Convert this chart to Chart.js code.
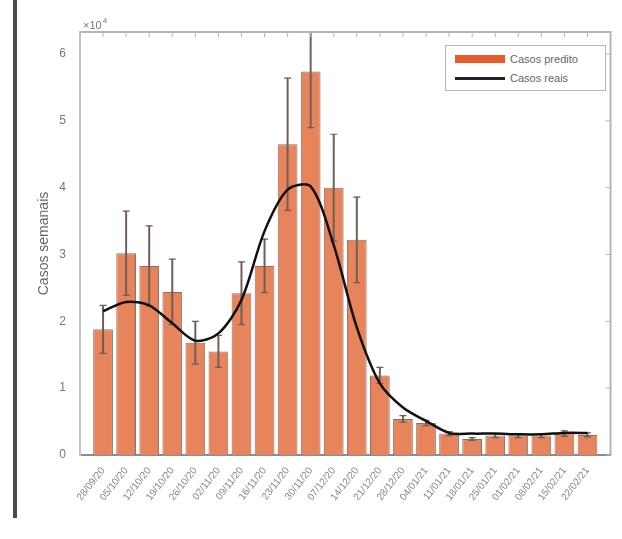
<!DOCTYPE html>
<html lang="pt">
<head>
<meta charset="UTF-8">
<title>Casos semanais</title>
<script src="https://cdn.jsdelivr.net/npm/chart.js"></script>
<style>
    body { margin: 0; background: #fff; font-family: "Liberation Sans", Arial, sans-serif; }
    .wrap { position: relative; width: 622px; height: 539px; }
    .edge { position: absolute; left: 13px; top: 0; width: 4px; height: 518px; background: #4a4a4a; }
    .legend {
        position: absolute; left: 445px; top: 45px; width: 159px; height: 44px;
        border: 1px solid #b8b8b8; background: #fff; font-size: 11px; color: #666;
    }
    .legend .row { position: absolute; left: 9px; display: flex; align-items: center; }
    .legend .sw { width: 50px; margin-right: 5px; }
</style>
</head>
<body>
<div class="wrap">
    <canvas id="chart" width="622" height="539"></canvas>
    <div class="edge"></div>
    <div class="legend">
        <div class="row" style="top:7px"><span class="sw" style="height:8px;background:#e85a2c"></span>Casos predito</div>
        <div class="row" style="top:26px"><span class="sw" style="height:3px;background:#222"></span>Casos reais</div>
    </div>
</div>
<script>
// weekly labels (guessed, the originals are unreadable)
const weeks = ['28/09/20', '05/10/20', '12/10/20', '19/10/20', '26/10/20', '02/11/20', '09/11/20', '16/11/20',
    '23/11/20', '30/11/20', '07/12/20', '14/12/20', '21/12/20', '28/12/20', '04/01/21', '11/01/21',
    '18/01/21', '25/01/21', '01/02/21', '08/02/21', '15/02/21', '22/02/21'];
const predicted = [18800, 30200, 28300, 24400, 16800, 15500, 24200, 28300, 46500, 57400, 40000,
    32200, 11900, 5400, 4800, 3200, 2400, 2900, 2900, 2900, 3200, 3000];
const predErr = [3600, 6300, 6000, 4900, 3200, 2400, 4700, 4000, 9900, 8400, 8000,
    6400, 1200, 500, 400, 300, 200, 300, 300, 300, 400, 300];
const real = [21500, 22900, 22400, 19700, 17100, 18200, 23200, 33500, 39700, 40200, 31400,
    19100, 10700, 7100, 5100, 3300, 3200, 3200, 3100, 3100, 3300, 3300];
const yTicks = [0, 10000, 20000, 30000, 40000, 50000, 60000];

// one empty slot each side so the bars sit a full step from the box
const pad = a => [null, ...a, null];
const labels = ['', ...weeks, ''];
const errRange = pad(predicted.map((v, i) => [v - predErr[i], v + predErr[i]]));
const errHigh = pad(predicted.map((v, i) => v + predErr[i]));
const errLow = pad(predicted.map((v, i) => v - predErr[i]));

const boxPlugin = {
    id: 'box',
    afterDraw(chart) {
        const { ctx, chartArea: a, scales } = chart;
        ctx.save();
        ctx.strokeStyle = '#b5b5b5';
        ctx.lineWidth = 2;
        ctx.beginPath();
        ctx.moveTo(a.left, a.top); ctx.lineTo(a.right, a.top); ctx.lineTo(a.right, a.bottom);
        ctx.stroke();
        ctx.lineWidth = 1;
        ctx.beginPath();
        for (let i = 1; i < labels.length - 1; i++) {
            const x = scales.x.getPixelForValue(i);
            ctx.moveTo(x, a.top); ctx.lineTo(x, a.top + 5);
        }
        yTicks.forEach(v => {
            const y = scales.y.getPixelForValue(v);
            ctx.moveTo(a.right, y); ctx.lineTo(a.right - 5, y);
        });
        ctx.stroke();
        ctx.fillStyle = '#777';
        ctx.font = '11px "Liberation Sans", Arial';
        ctx.textBaseline = 'bottom';
        const base = '\u00d710';
        ctx.fillText(base, a.left + 3, a.top - 1);
        const w = ctx.measureText(base).width;
        ctx.font = '8px "Liberation Sans", Arial';
        ctx.fillText('4', a.left + 4 + w, a.top - 7);
        ctx.restore();
    }
};

new Chart(document.getElementById('chart'), {
    data: {
        labels: labels,
        datasets: [
            { type: 'line', label: 'Casos reais', data: pad(real), borderColor: '#111', borderWidth: 2.5,
              pointRadius: 0, tension: 0.3, order: 0 },
            { type: 'line', data: errHigh, showLine: false, pointStyle: 'line', pointRadius: 3.5,
              borderColor: '#6d5d57', borderWidth: 1.2, order: 1 },
            { type: 'line', data: errLow, showLine: false, pointStyle: 'line', pointRadius: 3.5,
              borderColor: '#6d5d57', borderWidth: 1.2, order: 1 },
            { type: 'bar', data: errRange, backgroundColor: '#6d5d57', barThickness: 1.3,
              grouped: false, order: 2 },
            { type: 'bar', label: 'Casos predito', data: pad(predicted), backgroundColor: '#e8845b',
              borderColor: '#8a7068', borderWidth: 1, barPercentage: 0.95, categoryPercentage: 0.9,
              grouped: false, order: 3 }
        ]
    },
    options: {
        responsive: false,
        animation: false,
        layout: { padding: { left: 36, top: 32, right: 6, bottom: 24 } },
        plugins: { legend: { display: false }, tooltip: { enabled: false } },
        scales: {
            x: {
                offset: false,
                grid: { display: false },
                border: { color: '#8d8d8d', width: 2 },
                ticks: { minRotation: 52, maxRotation: 52, color: '#888', font: { size: 10 }, autoSkip: false, padding: 2 },
                afterFit: s => { s.height = 60; }
            },
            y: {
                min: 0,
                max: 63300,
                afterBuildTicks: s => { s.ticks = yTicks.map(v => ({ value: v })); },
                grid: { display: false },
                border: { color: '#c4c4c4', width: 2 },
                ticks: { color: '#777', font: { size: 12 }, padding: 6, callback: v => v / 10000 },
                title: { display: true, text: 'Casos semanais', color: '#666', font: { size: 14 }, padding: 0 },
                afterFit: s => { s.width = 44; }
            }
        }
    },
    plugins: [boxPlugin]
});
</script>
</body>
</html>
